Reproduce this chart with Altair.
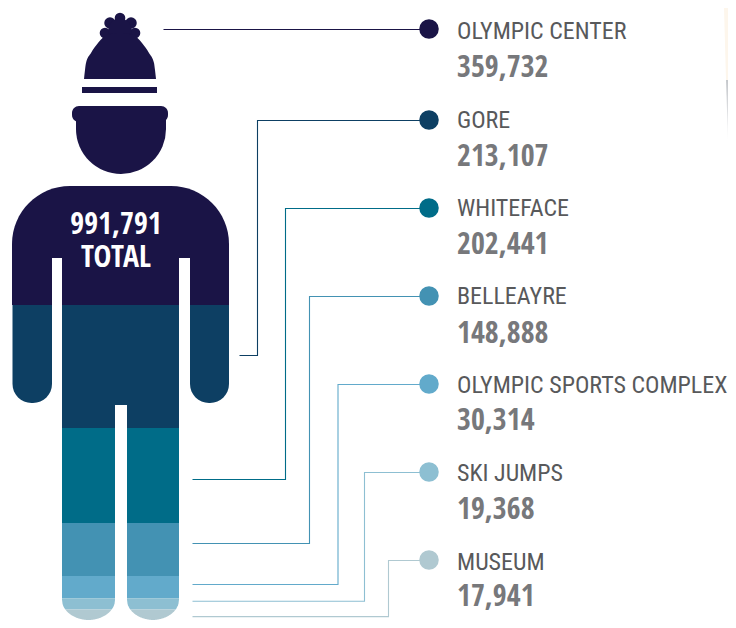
import altair as alt
import numpy as np
import pandas as pd

venues = ["OLYMPIC CENTER", "GORE", "WHITEFACE", "BELLEAYRE", "OLYMPIC SPORTS COMPLEX", "SKI JUMPS", "MUSEUM"]
visits = ["359,732", "213,107", "202,441", "148,888", "30,314", "19,368", "17,941"]
colors = ["#1a1446", "#0d3f63", "#006c88", "#4392b3", "#62aacb", "#8dbfd2", "#b0c9d1"]
rows_y = [29, 120, 208, 296, 384, 472, 560]
name_y = [32, 121, 209, 297, 386, 474, 563]
value_y = [68, 157, 245, 334, 421, 510, 599]
start_x = [163, 239, 192, 192, 192, 192, 192]
start_y = [29, 355, 479, 543, 584, 604.5, 625]
elbow_x = [None, 257, 285, 309, 337.5, 364, 388]
band_edges = [186, 305, 428, 523, 576, 601, 616, 630]
dome_x = [84, 85, 86, 91, 98, 107, 120, 133, 142, 149, 154, 155, 156]
dome_top = [79, 70, 63, 53, 43, 35, 33, 35, 43, 53, 63, 70, 79]

W, H = 720, 612
SX = alt.Scale(domain=[8, 8 + W], nice=False, zero=False)
# true scale down to y=590, the last 40 units squeezed into what the page can still show
SY = alt.Scale(domain=[630, 590, 8], range=[612, 582, 0], nice=False, zero=False)
X = alt.X("x:Q", scale=SX, axis=None)
Y = alt.Y("y:Q", scale=SY, axis=None)
X2 = alt.X2("x2:Q")
Y2 = alt.Y2("y2:Q")


def boxes(rows, color, **mark):
    df = pd.DataFrame(rows, columns=["x", "x2", "y", "y2"])
    return alt.Chart(df).mark_rect(color=color, strokeWidth=0, **mark).encode(x=X, x2=X2, y=Y, y2=Y2)


layers = []
navy = colors[0]

# faint photo sliver at the right edge
layers.append(alt.Chart(pd.DataFrame({"x": [724, 726, 728], "y": [8, 8, 8], "y2": [8, 80, 80]}))
              .mark_area(color="#fdf6ec", opacity=1).encode(x=X, y=Y, y2=Y2))
layers.append(alt.Chart(pd.DataFrame({"x": [726, 728], "y": [80, 80], "y2": [80, 140]}))
              .mark_area(opacity=1, color=alt.Gradient(
                  gradient="linear", x1=0, y1=0, x2=0, y2=1,
                  stops=[alt.GradientStop(color="#c4c7cb", offset=0), alt.GradientStop(color="#f4f4f5", offset=1)]))
              .encode(x=X, y=Y, y2=Y2))

# hat and pompom
pom = pd.DataFrame({"x": [120, 110, 131, 105, 135, 120], "y": [18, 23, 23, 33, 33, 30],
                    "r": [6, 6.5, 6.5, 6, 6, 13]})
pom["area"] = np.pi * pom["r"] ** 2
layers.append(alt.Chart(pom).mark_circle(color=navy, opacity=1).encode(
    x=X, y=Y, size=alt.Size("area:Q", scale=None)))
dome = pd.DataFrame({"x": dome_x, "y": dome_top, "y2": [79] * len(dome_x)})
layers.append(alt.Chart(dome).mark_area(color=navy, opacity=1, interpolate="monotone").encode(x=X, y=Y, y2=Y2))
layers.append(boxes([[82, 157, 87, 93]], navy))
# head
layers.append(alt.Chart(pd.DataFrame({"x": [121], "y": [129]})).mark_arc(
    color=navy, radius=45, theta=np.pi / 2, theta2=3 * np.pi / 2).encode(x=X, y=Y))
layers.append(boxes([[76, 166, 110, 129.5]], navy))
layers.append(boxes([[72, 168, 106, 122]], navy, cornerRadius=7))

# shoulders + navy band
layers.append(boxes([[12, 229, band_edges[0], band_edges[1]]], navy, cornerRadiusTopLeft=58, cornerRadiusTopRight=58))
layers.append(boxes([[52, 62, 258, 306], [179, 190, 258, 306]], "#ffffff"))
# gore band
gore = colors[1]
layers.append(boxes([[12.5, 52, 305, 403], [190, 229, 305, 403]], gore,
                    cornerRadiusBottomLeft=19, cornerRadiusBottomRight=19))
layers.append(boxes([[62, 179, 305, 428]], gore))
layers.append(boxes([[115, 127, 405, 429]], "#ffffff"))
# legs, straight bands
legs = [(62, 115), (127, 179)]
for i in [2, 3, 4]:
    layers.append(boxes([[a, b, band_edges[i], band_edges[i + 1]] for a, b in legs], colors[i]))
# legs, rounded ends


def cap_area(top, bottom, color):
    r, cy = 27.0, 603.0
    recs = []
    for k, (a, b) in enumerate(legs):
        for xv in np.linspace(a, b, 107):
            inset = max(a + r - xv, xv - (b - r), 0.0)
            low = cy + np.sqrt(max(r * r - inset * inset, 0.0))
            if low <= top:
                continue
            recs.append({"x": float(xv), "y": float(top), "y2": float(min(low, bottom)), "leg": k})
    return alt.Chart(pd.DataFrame(recs)).mark_area(color=color, opacity=1).encode(
        x=X, y=Y, y2=Y2, detail="leg:N")


layers.append(cap_area(band_edges[5], band_edges[6], colors[5]))
layers.append(cap_area(band_edges[6], band_edges[7], colors[6]))

# connectors
line_rows = []
for i in range(7):
    pts = [(start_x[i], start_y[i])]
    if elbow_x[i] is not None:
        pts += [(elbow_x[i], start_y[i]), (elbow_x[i], rows_y[i])]
    pts.append((429, rows_y[i]))
    for n, (px, py) in enumerate(pts):
        line_rows.append({"x": px + 0.5, "y": py + 0.5, "venue": venues[i], "n": n})
color_scale = alt.Scale(domain=venues, range=colors)
layers.append(alt.Chart(pd.DataFrame(line_rows)).mark_line(strokeWidth=1.1, interpolate="linear").encode(
    x=X, y=Y, order="n:Q", color=alt.Color("venue:N", scale=color_scale, legend=None)))

# dots
rows = pd.DataFrame({"venue": venues, "visits": visits, "x": [429] * 7, "y": rows_y,
                     "tx": [457] * 7, "ny": name_y, "vy": value_y})
layers.append(alt.Chart(rows).mark_circle(size=380, opacity=1).encode(
    x=X, y=Y, color=alt.Color("venue:N", scale=color_scale, legend=None)))

layers.append(alt.Chart(rows).mark_text(align="left", baseline="middle", font="Roboto Condensed", fontSize=24, color="#58595b").encode(
    x=alt.X("tx:Q", scale=SX, axis=None), y=alt.Y("ny:Q", scale=SY, axis=None), text="venue:N"))
layers.append(alt.Chart(rows).mark_text(align="left", baseline="middle", font="Open Sans Condensed", fontWeight="bold", fontSize=30, color="#77787b").encode(
    x=alt.X("tx:Q", scale=SX, axis=None), y=alt.Y("vy:Q", scale=SY, axis=None), text="visits:N"))

# centre text
centre = pd.DataFrame({"x": [116, 116], "y": [225, 258], "t": ["991,791", "TOTAL"]})
layers.append(alt.Chart(centre).mark_text(align="center", baseline="middle", font="Open Sans Condensed", fontWeight="bold", fontSize=30, color="#ffffff").encode(
    x=X, y=Y, text="t:N"))

chart = alt.layer(*layers).properties(
    width=W, height=H, padding=0, autosize=alt.AutoSizeParams(type="none"),
    background="#ffffff",
).configure_view(stroke=None)
chart.save("out.html", embed_options={"renderer": "svg", "actions": False})
